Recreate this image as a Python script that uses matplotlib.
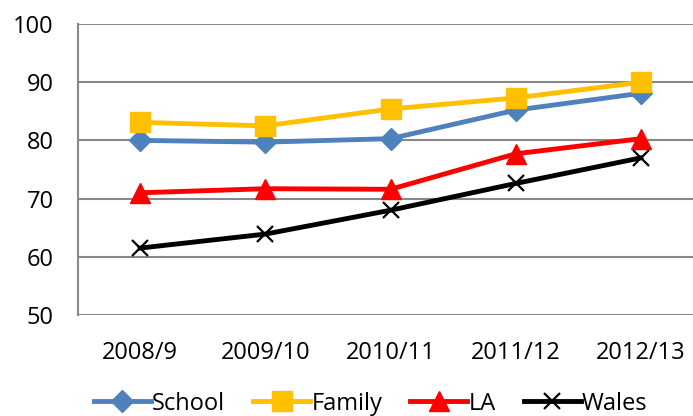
#!/usr/bin/env python3
import matplotlib
matplotlib.use("Agg")
import matplotlib.pyplot as plt

years = ["2008/9", "2009/10", "2010/11", "2011/12", "2012/13"]
school = [80.0, 79.7, 80.3, 85.2, 88.1]
family = [83.1, 82.5, 85.4, 87.3, 90.0]
la = [71.0, 71.7, 71.6, 77.7, 80.3]
wales = [61.5, 63.9, 68.0, 72.6, 77.0]

plt.rcParams['font.family'] = ['Open Sans', 'DejaVu Sans']

fig = plt.figure(figsize=(6.93, 4.16), dpi=100)
ax = fig.add_axes([77.5 / 693, 1 - 315 / 416, 626 / 693, 291 / 416])

x = list(range(len(years)))
ax.plot(x, school, color="#4F81BD", lw=3.5, marker="D", ms=11, label="School", zorder=3)
ax.plot(x, family, color="#FFC000", lw=3.5, marker="s", ms=14.5, label="Family", zorder=4)
ax.plot(x, la, color="#FF0000", lw=3.5, marker="^", ms=14, label="LA", zorder=3)
ax.plot(x, wales, color="black", lw=3.5, marker="x", ms=12, mew=1.6, label="Wales", zorder=3)

ax.set_xlim(-0.5, 4.5)
ax.set_ylim(50, 100)
ax.set_yticks([50, 60, 70, 80, 90, 100])
ax.set_xticks(x)
ax.set_xticklabels(years)
ax.yaxis.grid(True, color="#888888", lw=1.5)
ax.set_axisbelow(True)
for s in ["top", "right", "bottom"]:
    ax.spines[s].set_visible(False)
ax.spines["left"].set_color("#888888")
ax.spines["left"].set_linewidth(1.5)
ax.tick_params(length=0, labelsize=17)
ax.tick_params(axis="y", pad=17)
ax.tick_params(axis="x", pad=19)

fig.legend(loc="lower center", bbox_to_anchor=(0.535, -0.05), ncol=4, frameon=False,
           fontsize=17, handlelength=2.4, handletextpad=0.05, columnspacing=1.2)

fig.savefig("out.png", dpi=100)
